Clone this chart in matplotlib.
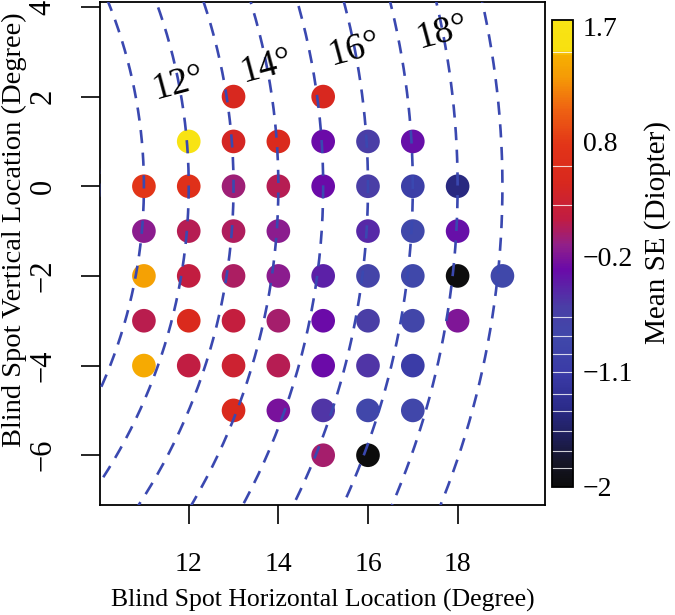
import numpy as np
import matplotlib
matplotlib.use('Agg')
import matplotlib.pyplot as plt
from matplotlib.colors import LinearSegmentedColormap, Normalize
import matplotlib.cm as cm

plt.rcParams['font.family'] = ['Liberation Serif', 'DejaVu Serif']

# ---- data ----
x_loc = [13, 15,
         12, 13, 14, 15, 16, 17,
         11, 12, 13, 14, 15, 16, 17, 18,
         11, 12, 13, 14, 16, 17, 18,
         11, 12, 13, 14, 15, 16, 17, 18, 19,
         11, 12, 13, 14, 15, 16, 17, 18,
         11, 12, 13, 14, 15, 16, 17,
         13, 14, 15, 16, 17,
         15, 16]
y_loc = [2, 2,
         1, 1, 1, 1, 1, 1,
         0, 0, 0, 0, 0, 0, 0, 0,
         -1, -1, -1, -1, -1, -1, -1,
         -2, -2, -2, -2, -2, -2, -2, -2, -2,
         -3, -3, -3, -3, -3, -3, -3, -3,
         -4, -4, -4, -4, -4, -4, -4,
         -5, -5, -5, -5, -5,
         -6, -6]
mean_se = [0.45, 0.45,
           1.70, 0.40, 0.50, -0.25, -0.55, -0.28,
           0.75, 0.65, 0.00, 0.10, -0.25, -0.55, -1.00, -1.40,
           -0.08, 0.10, 0.07, -0.08, -0.42, -0.80, -0.27,
           1.35, 0.18, 0.06, -0.08, -0.38, -0.70, -0.80, -1.98, -0.80,
           0.12, 0.50, 0.20, 0.03, -0.25, -0.55, -0.75, -0.15,
           1.42, 0.17, 0.30, 0.10, -0.25, -0.50, -1.05,
           0.50, -0.18, -0.50, -0.78, -0.78,
           0.03, -2.00]

arc_radii = [10, 11, 12, 13, 14, 15, 16, 17, 18, 19]
arc_label_radii = [12, 14, 16, 18]
arc_label_text = ['12°', '14°', '16°', '18°']

x_ticks = [12, 14, 16, 18]
y_ticks = [-6, -4, -2, 0, 2, 4]
y_tick_labels = ['−6', '−4', '−2', '0', '2', '4']
cbar_min, cbar_max = -2.0, 1.756
cbar_tick_values = [-2.0, -1.075, -0.15, 0.775, 1.7]
cbar_tick_labels = ['−2', '−1.1', '−0.2', '0.8', '1.7']
cbar_gaps = [1.499, 0.584, 0.271, -0.636, -0.788, -0.933, -1.077, -1.254,
             -1.39, -1.551, -1.711, -1.848]

# colormap (value -> colour)
cmap_nodes = [(-2.0, '#0c0c0c'), (-1.8, '#161628'), (-1.6, '#1e1e5a'),
              (-1.35, '#2c2c8c'), (-1.1, '#3a3aa6'), (-0.8, '#4048aa'),
              (-0.55, '#4a3ea6'), (-0.25, '#6a0aa8'), (-0.05, '#922088'),
              (0.15, '#c01c44'), (0.45, '#d8281e'), (0.75, '#e23418'),
              (1.05, '#ef6412'), (1.3, '#f59a06'), (1.48, '#f6b000'),
              (1.52, '#f8e010'), (1.756, '#f8e414')]
cmap = LinearSegmentedColormap.from_list(
    'se', [((v - cbar_min) / (cbar_max - cbar_min), c) for v, c in cmap_nodes])
norm = Normalize(cbar_min, cbar_max)

W, H = 675, 615
fig = plt.figure(figsize=(W / 100, H / 100), dpi=100)
ax = fig.add_axes([100 / W, 1 - 505 / H, 445 / W, 503 / H])

ax.scatter(x_loc, y_loc, c=mean_se, cmap=cmap, norm=norm, s=290,
           linewidths=0, zorder=2)

theta = np.linspace(-np.pi / 2, np.pi / 2, 600)
for r in arc_radii:
    ax.plot(r * np.cos(theta), r * np.sin(theta), color='#3a48b0', lw=1.9,
            dashes=(5, 3.6), zorder=3)

ang = np.deg2rad(11)
for r, t in zip(arc_label_radii, arc_label_text):
    ax.text(r * np.cos(ang), r * np.sin(ang), t, fontsize=27, rotation=15,
            ha='center', va='center', rotation_mode='anchor', zorder=4)

ax.set_xlim(10.02, 19.95)
ax.set_ylim(-7.11, 4.11)
ax.set_xticks(x_ticks)
ax.set_xticklabels([str(v) for v in x_ticks])
ax.set_yticks(y_ticks)
ax.set_yticklabels(y_tick_labels, rotation=90, va='center')
ax.tick_params(direction='out', length=13.5, width=1.2, labelsize=20)
ax.tick_params(axis='y', labelsize=22)
ax.tick_params(axis='x', pad=20)
ax.tick_params(axis='y', pad=17)
for s in ax.spines.values():
    s.set_linewidth(1.3)
ax.set_xlabel('Blind Spot Horizontal Location (Degree)', fontsize=18.5)
ax.xaxis.set_label_coords(0.5, -(600 - 505) / 503)
ax.set_ylabel('Blind Spot Vertical Location (Degree)', fontsize=20.5)
ax.yaxis.set_label_coords(-(100 - 14) / 445, (505 - 230) / 503)
ax.xaxis.label.set_va('center')
ax.yaxis.label.set_va('center')

# colorbar
cax = fig.add_axes([552 / W, 1 - 487 / H, 21 / W, 467 / H])
cb = fig.colorbar(cm.ScalarMappable(norm=norm, cmap=cmap), cax=cax)
cb.set_ticks(cbar_tick_values)
cb.set_ticklabels(cbar_tick_labels)
cax.tick_params(length=0, labelsize=20, pad=7)
cb.outline.set_linewidth(1.3)
for g in cbar_gaps:
    cax.axhline(g, color='white', lw=0.8, alpha=0.8)
fig.text(658 / W, 1 - 233 / H, 'Mean SE (Diopter)', rotation=90, fontsize=21,
         ha='center', va='center')

fig.savefig('out.png', dpi=100)
